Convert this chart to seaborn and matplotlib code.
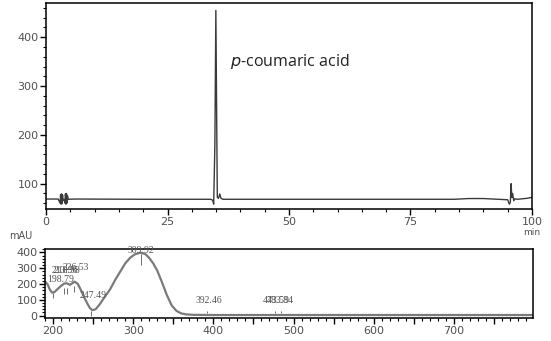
import matplotlib
matplotlib.use("Agg")
import matplotlib.pyplot as plt
import matplotlib.ticker as mticker
import seaborn as sns
import pandas as pd

# ---------------- data ----------------
# chromatogram (retention time, min / absorbance, mAU)
rt_min = [0, 2.5, 2.9, 3.0, 3.1, 3.2, 3.3, 3.4, 3.5, 3.7, 3.9, 4.0, 4.1, 4.2, 4.3, 4.4, 4.6,
          6, 20, 33.9, 34.3, 34.5, 34.75, 34.95, 35.1, 35.25, 35.5, 35.75, 36.0, 36.4, 37,
          50, 70, 84, 87, 90, 93, 95.0, 95.35, 95.55, 95.7, 95.85, 96.0, 96.25, 96.5, 97,
          99, 100]
rt_mau = [68.5, 68.5, 60, 78, 58, 79, 59, 77, 66, 68, 60, 79, 58, 80, 60, 76, 68,
          68.5, 68, 68, 66, 58, 180, 455, 260, 72, 70, 79, 70, 68, 68,
          68, 68, 68, 69.5, 69.5, 68, 67, 58, 62, 100, 72, 80, 65, 69, 68,
          70, 72]

# UV spectrum (wavelength nm / absorbance mAU)
wl_nm = [190, 193, 196, 199, 202, 206, 210, 214, 217, 221, 224, 227, 231, 235, 239,
         243, 246, 249, 253, 258, 264, 271, 278, 284, 290, 296, 302, 309, 315, 320,
         325, 330, 336, 342, 348, 354, 360, 366, 375, 400, 500, 600, 700, 800]
wl_mau = [215, 200, 165, 145, 150, 170, 188, 203, 205, 195, 205, 215, 200, 160, 115,
          75, 48, 35, 40, 70, 115, 165, 230, 280, 330, 365, 388, 398, 390, 365,
          330, 285, 210, 130, 65, 30, 14, 8, 5, 4, 4, 4, 4, 4]

# peak annotations in the spectrum
peak_wl = [199.5, 214.0, 218.0, 226.5, 247.5, 309.9, 392.5, 477.0, 485.0]
peak_txt = ["198.79", "213.96", "218.98", "226.53", "247.49", "309.92", "392.46", "473.59", "483.84"]
label_nm = [210, 215, 218, 228, 250, 310, 394, 479, 483]
label_mau = [230, 287, 287, 306, 126, 412, 94, 94, 94]
mark_lo = [110, 140, 140, 150, 0, 320, 15, 15, 15]
mark_hi = [145, 175, 175, 185, 30, 390, 28, 28, 28]

chrom = pd.DataFrame({"time": rt_min, "mAU": rt_mau})
spec = pd.DataFrame({"nm": wl_nm, "mAU": wl_mau})

# ---------------- figure ----------------
sns.set_theme(style="white")
plt.rcParams["font.family"] = ["DejaVu Sans"]
fig = plt.figure(figsize=(5.51, 3.41), dpi=100)

ax1 = fig.add_axes([0.0835, 0.387, 0.882, 0.604])
ax2 = fig.add_axes([0.0817, 0.0674, 0.886, 0.2026])

tick_col = "#505050"

# --- top: chromatogram ---
sns.lineplot(data=chrom, x="time", y="mAU", ax=ax1, color="#3a3a3a", linewidth=1.0,
             estimator=None, sort=False)
ax1.set_xlim(0, 100)
ax1.set_ylim(48, 470)
ax1.xaxis.set_major_locator(mticker.MultipleLocator(25))
ax1.xaxis.set_minor_locator(mticker.MultipleLocator(5))
ax1.yaxis.set_major_locator(mticker.FixedLocator([100, 200, 300, 400]))
ax1.yaxis.set_minor_locator(mticker.MultipleLocator(20))
ax1.set_xlabel("")
ax1.set_ylabel("")
ax1.text(0.378, 0.715, "$\\it{p}$-coumaric acid", transform=ax1.transAxes,
         fontsize=11.5, family="Open Sans", color="#222222", va="center", ha="left")
ax1.text(1.0, -0.115, "min", transform=ax1.transAxes, fontsize=6.5, color=tick_col,
         ha="center", va="center")

# --- bottom: spectrum ---
sns.lineplot(data=spec, x="nm", y="mAU", ax=ax2, color="#7a7a7a", linewidth=1.6,
             estimator=None, sort=False)
ax2.set_xlim(190, 799)
ax2.set_ylim(-15, 422)
ax2.xaxis.set_major_locator(mticker.MultipleLocator(50))
ax2.xaxis.set_major_formatter(mticker.FuncFormatter(
    lambda v, p: f"{int(v)}" if int(round(v)) % 100 == 0 else ""))
ax2.xaxis.set_minor_locator(mticker.MultipleLocator(10))
ax2.yaxis.set_major_locator(mticker.MultipleLocator(100))
ax2.yaxis.set_minor_locator(mticker.MultipleLocator(20))
ax2.set_xlabel("")
ax2.set_ylabel("")
ax2.text(-0.05, 1.19, "mAU", transform=ax2.transAxes, fontsize=7, color=tick_col,
         ha="center", va="center")

for w, t, lx, ly, lo, hi in zip(peak_wl, peak_txt, label_nm, label_mau, mark_lo, mark_hi):
    ax2.text(lx, ly, t, fontsize=7, family="Liberation Serif", color="#555555",
             ha="center", va="center")
    ax2.vlines(w, lo, hi, color="#555555", linewidth=0.6)

for ax in (ax1, ax2):
    for s in ax.spines.values():
        s.set_color("black")
        s.set_linewidth(1.1)
    ax.tick_params(axis="both", which="major", direction="out", length=4, width=1,
                   colors="black", labelcolor=tick_col, labelsize=8, pad=1.5,
                   bottom=True, left=True)
    ax.tick_params(axis="both", which="minor", direction="out", length=2, width=0.8,
                   colors="black", bottom=True, left=True)

fig.savefig("out.png", dpi=100, facecolor="white")
